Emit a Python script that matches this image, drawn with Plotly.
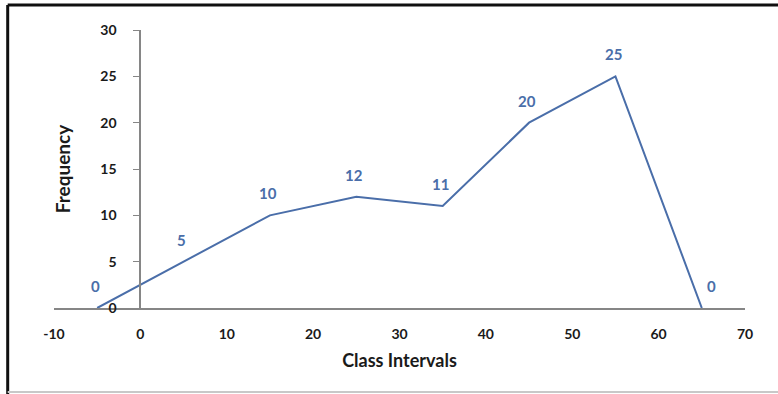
import plotly.graph_objects as go

# class mid-points and frequencies (frequency polygon)
class_mid = [-5, 5, 15, 25, 35, 45, 55, 65]
frequency = [0, 5, 10, 12, 11, 20, 25, 0]

x_ticks = [-10, 0, 10, 20, 30, 40, 50, 60, 70]
x_tick_text = ["-10", "0", "10", "20", "30", "40", "50", "60", "70"]
y_ticks = [0, 5, 10, 15, 20, 25, 30]

line_col = "#4a6ea9"
axis_col = "#868686"
font_fam = "Lato, 'Open Sans', sans-serif"

fig = go.Figure()
fig.add_trace(go.Scatter(
    x=class_mid, y=frequency,
    mode="lines",
    line=dict(color=line_col, width=2),
    cliponaxis=False,
    showlegend=False,
))

# data labels sit a little above each vertex (last one nudged right)
for i, (cx, fv) in enumerate(zip(class_mid, frequency)):
    last = i == len(class_mid) - 1
    fig.add_annotation(
        x=cx, y=fv, text=str(fv), showarrow=False,
        yshift=22, xshift=10 if last else -2,
        font=dict(family=font_fam, size=15, color=line_col, weight="bold"),
    )

fig.update_layout(
    width=778, height=394,
    margin=dict(l=54, r=33, t=30, b=86),
    paper_bgcolor="white", plot_bgcolor="white",
    font=dict(family=font_fam, color="#1a1a1a"),
    xaxis=dict(
        range=[-10, 70], tickvals=x_ticks, ticktext=x_tick_text,
        showgrid=False, zeroline=False,
        showline=True, linecolor=axis_col, linewidth=2, ticks="",
        ticklabelstandoff=12,
        tickfont=dict(size=14, weight="bold"),
        title=dict(text="Class Intervals", font=dict(size=18, weight="bold"), standoff=14),
    ),
    yaxis=dict(
        range=[0, 30], tickvals=y_ticks, showgrid=False, zeroline=False,
        anchor="free", position=0.125,
        showline=True, linecolor=axis_col, linewidth=2,
        ticks="outside", ticklen=6, tickcolor=axis_col, tickwidth=1,
        ticklabelstandoff=14,
        tickfont=dict(size=14, weight="bold"),
        title=dict(text="Frequency", font=dict(size=19, weight="bold"), standoff=24),
    ),
    shapes=[
        dict(type="line", xref="paper", yref="paper", x0=-0.067, x1=1.05, y0=1.09, y1=1.09,
             line=dict(color="#101010", width=3)),
        dict(type="line", xref="paper", yref="paper", x0=-0.067, x1=-0.067, y0=1.09, y1=-0.31,
             line=dict(color="#101010", width=3)),
        dict(type="line", xref="paper", yref="paper", x0=-0.067, x1=1.05, y0=-0.302, y1=-0.302,
             line=dict(color="#c8c8c8", width=2)),
    ],
)

fig.write_html("out.html", config={"displayModeBar": False},
               post_script="document.body.style.margin='0';")
